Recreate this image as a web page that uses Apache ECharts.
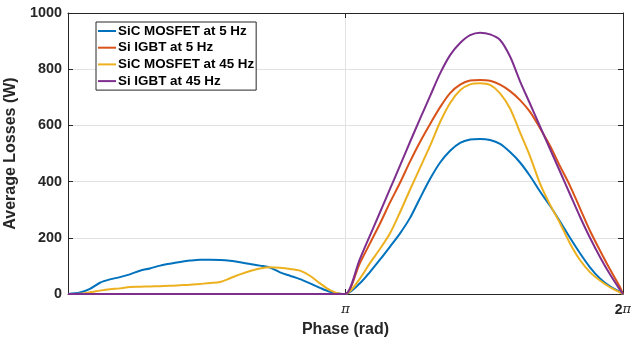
<!DOCTYPE html>
<html>
<head>
<meta charset="utf-8">
<script src="https://cdn.jsdelivr.net/npm/echarts@6/dist/echarts.min.js"></script>
<style>
  html, body { margin: 0; padding: 0; background: #fff; }
  #chart { width: 631px; height: 343px; }
</style>
</head>
<body>
<div id="chart"></div>
<script>
// Phase samples, in multiples of pi (0 .. 2pi)
const phase = [
  0, 0.043, 0.079, 0.115, 0.151, 0.187, 0.223, 0.259, 0.295, 0.332,
  0.368, 0.404, 0.440, 0.476, 0.512, 0.548, 0.584, 0.620, 0.656, 0.692,
  0.728, 0.764, 0.800, 0.836, 0.872, 0.908, 0.944, 0.980, 1.000,
  1.052, 1.088, 1.124, 1.160, 1.196, 1.232, 1.268, 1.305, 1.341, 1.377,
  1.413, 1.449, 1.485, 1.521, 1.557, 1.593, 1.629, 1.665, 1.701, 1.737,
  1.773, 1.809, 1.845, 1.881, 1.917, 1.953, 1.989, 2.000
];

// Average losses (W)
const sicMosfet5Hz = [
  0, 5, 18, 40, 52, 60, 70, 83, 91, 101,
  108, 114, 119, 122, 122, 121, 118, 113, 107, 101,
  94, 77, 65, 53, 38, 22, 8, 1, 0,
  38, 78, 122, 168, 215, 270, 340, 410, 468, 510,
  538, 550, 552, 548, 534, 505, 468, 420, 365, 314,
  258, 200, 145, 95, 55, 27, 7, 0
];
const siIgbt5Hz = [
  0, 0, 0, 0, 0, 0, 0, 0, 0, 0,
  0, 0, 0, 0, 0, 0, 0, 0, 0, 0,
  0, 0, 0, 0, 0, 0, 0, 0, 0,
  110, 180, 250, 325, 395, 470, 540, 605, 665, 715,
  745, 760, 762, 759, 745, 722, 690, 648, 590, 528,
  455, 385, 305, 225, 155, 88, 25, 0
];
const sicMosfet45Hz = [
  0, 1, 6, 12, 17, 20, 25, 26, 27, 28,
  29, 31, 33, 36, 39, 43, 56, 70, 82, 91,
  95, 93, 89, 83, 65, 38, 14, 1, 0,
  55, 110, 160, 215, 290, 370, 448, 528, 612, 680,
  725, 746, 750, 744, 714, 660, 575, 490, 393, 318,
  252, 180, 121, 78, 48, 24, 6, 0
];
const siIgbt45Hz = [
  0, 0, 0, 0, 0, 0, 0, 0, 0, 0,
  0, 0, 0, 0, 0, 0, 0, 0, 0, 0,
  0, 0, 0, 0, 0, 0, 0, 0, 0,
  125, 208, 290, 373, 456, 540, 622, 705, 785, 850,
  893, 921, 930, 924, 904, 845, 757, 677, 596, 516,
  436, 355, 275, 200, 132, 70, 15, 0
];

const seriesNames = ['SiC MOSFET at 5 Hz', 'Si IGBT at 5 Hz', 'SiC MOSFET at 45 Hz', 'Si IGBT at 45 Hz'];
const seriesValues = [sicMosfet5Hz, siIgbt5Hz, sicMosfet45Hz, siIgbt45Hz];
const seriesColors = ['#0072BD', '#D95319', '#EDB120', '#7E2F8E'];

const yTicks = { min: 0, max: 1000, interval: 200 };

const FONT = '"Liberation Sans", Arial, Helvetica, sans-serif';
const AXIS_COLOR = '#262626';
const GRID_COLOR = '#e2e2e2';

const chart = echarts.init(document.getElementById('chart'), null, { renderer: 'canvas' });

const piLabel = v => {
  if (Math.abs(v - 1) < 1e-9) return '{p|π}';
  if (Math.abs(v - 2) < 1e-9) return '{n|2}{p|π}';
  return '';
};

const option = {
  animation: false,
  backgroundColor: '#ffffff',
  grid: { left: 68, right: 8, top: 13, bottom: 49, containLabel: false, outerBoundsMode: 'none' },
  legend: {
    orient: 'vertical',
    left: 96,
    top: 22,
    padding: [2, 2, 2, 2],
    itemGap: 2.7,
    itemWidth: 18,
    itemHeight: 2,
    icon: 'rect',
    borderColor: AXIS_COLOR,
    borderWidth: 1,
    backgroundColor: '#ffffff',
    data: seriesNames,
    textStyle: {
      fontFamily: FONT,
      fontWeight: 'bold',
      fontSize: 13.4,
      lineHeight: 14,
      color: '#000000',
      padding: [0, 0, 0, -3]
    }
  },
  xAxis: [
    {
      type: 'value',
      min: 0,
      max: 2,
      interval: 1,
      name: 'Phase (rad)',
      nameLocation: 'middle',
      nameGap: 28,
      nameTextStyle: { fontFamily: FONT, fontWeight: 'bold', fontSize: 16, color: AXIS_COLOR },
      axisLine: { show: true, onZero: false, lineStyle: { color: AXIS_COLOR, width: 1 } },
      axisTick: { show: true, inside: true, length: 5, lineStyle: { color: AXIS_COLOR } },
      axisLabel: {
        margin: 9,
        formatter: piLabel,
        rich: {
          n: { fontFamily: FONT, fontWeight: 'bold', fontSize: 14, color: AXIS_COLOR },
          p: { fontFamily: '"DejaVu Serif", "Liberation Serif", serif', fontStyle: 'italic', fontSize: 13, color: AXIS_COLOR }
        }
      },
      splitLine: { show: true, lineStyle: { color: GRID_COLOR, width: 1 } }
    },
    {
      type: 'value',
      position: 'top',
      min: 0,
      max: 2,
      interval: 1,
      axisLine: { show: true, onZero: false, lineStyle: { color: AXIS_COLOR, width: 1 } },
      axisTick: { show: true, inside: true, length: 5, lineStyle: { color: AXIS_COLOR } },
      axisLabel: { show: false },
      splitLine: { show: false }
    }
  ],
  yAxis: [
    {
      type: 'value',
      min: yTicks.min,
      max: yTicks.max,
      interval: yTicks.interval,
      name: 'Average Losses (W)',
      nameLocation: 'middle',
      nameGap: 40,
      nameTextStyle: { fontFamily: FONT, fontWeight: 'bold', fontSize: 16, color: AXIS_COLOR },
      axisLine: { show: true, onZero: false, lineStyle: { color: AXIS_COLOR, width: 1 } },
      axisTick: { show: true, inside: true, length: 5, lineStyle: { color: AXIS_COLOR } },
      axisLabel: { margin: 6, fontFamily: FONT, fontWeight: 'bold', fontSize: 14.4, color: AXIS_COLOR, formatter: v => String(v) },
      splitLine: { show: true, lineStyle: { color: GRID_COLOR, width: 1 } }
    },
    {
      type: 'value',
      position: 'right',
      min: yTicks.min,
      max: yTicks.max,
      interval: yTicks.interval,
      axisLine: { show: true, onZero: false, lineStyle: { color: AXIS_COLOR, width: 1 } },
      axisTick: { show: true, inside: true, length: 5, lineStyle: { color: AXIS_COLOR } },
      axisLabel: { show: false },
      splitLine: { show: false }
    }
  ],
  series: seriesNames.map((name, i) => ({
    name,
    type: 'line',
    xAxisIndex: 0,
    yAxisIndex: 0,
    data: phase.map((p, k) => [p, seriesValues[i][k]]),
    showSymbol: false,
    smooth: 0.3,
    clip: false,
    color: seriesColors[i],
    lineStyle: { color: seriesColors[i], width: 2, join: 'round' },
    z: 3 + i
  }))
};

chart.setOption(option);
</script>
</body>
</html>
